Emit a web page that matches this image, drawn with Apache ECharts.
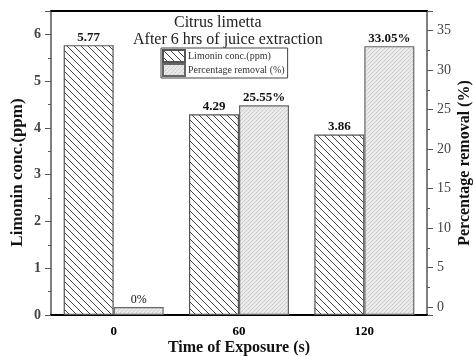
<!DOCTYPE html>
<html>
<head>
<meta charset="utf-8">
<script src="https://cdn.jsdelivr.net/npm/echarts@6/dist/echarts.min.js"></script>
<style>html,body{margin:0;padding:0;background:#fff}#c{width:473px;height:356px}</style>
</head>
<body>
<div id="c"></div>
<script>
const categories = ['0', '60', '120'];
const limoninConc = [5.77, 4.29, 3.86];
const percentRemoval = [0, 25.55, 33.05];
const seriesNames = ['Limonin conc.(ppm)', 'Percentage removal (%)'];
const titleLines = ['Citrus limetta', 'After 6 hrs of juice extraction'];

function hatchPattern() {
  const n = 7, c = document.createElement('canvas');
  c.width = n; c.height = n;
  const g = c.getContext('2d');
  g.fillStyle = '#fff'; g.fillRect(0, 0, n, n);
  g.strokeStyle = '#444'; g.lineWidth = 1;
  g.beginPath();
  g.moveTo(-1, -1); g.lineTo(n + 1, n + 1);
  g.moveTo(-1, n - 1); g.lineTo(1, n + 1);
  g.moveTo(n - 1, -1); g.lineTo(n + 1, 1);
  g.stroke();
  return c;
}
function dotPattern() {
  const c = document.createElement('canvas');
  c.width = 4; c.height = 4;
  const g = c.getContext('2d');
  g.fillStyle = '#e9e9e9'; g.fillRect(0, 0, 4, 4);
  g.fillStyle = '#c8c8c8'; g.fillRect(0, 0, 1, 1); g.fillRect(2, 2, 1, 1);
  g.fillStyle = '#d6d6d6'; g.fillRect(1, 3, 1, 1); g.fillRect(3, 1, 1, 1);
  return c;
}

const serif = '"Liberation Serif", "DejaVu Serif", serif';
const chart = echarts.init(document.getElementById('c'), null, {renderer: 'canvas'});
chart.setOption({
  animation: false,
  textStyle: {fontFamily: serif},
  grid: {left: 51, right: 46, top: 11, bottom: 41, containLabel: false, outerBoundsMode: 'none'},
  graphic: [
    {type: 'text', left: 174, top: 15, style: {text: titleLines[0], font: '16px ' + serif, fill: '#222'}},
    {type: 'text', left: 133, top: 32, style: {text: titleLines[1], font: '16px ' + serif, fill: '#222'}}
  ],
  legend: {
    orient: 'vertical', left: 161, top: 48,
    itemWidth: 22, itemHeight: 12, itemGap: 0,
    padding: [1, 3, 1, 1],
    borderColor: '#444', borderWidth: 1,
    textStyle: {fontFamily: serif, fontSize: 10, color: '#333', padding: [0, 0, 0, -2]},
    data: [{name: seriesNames[0], icon: 'rect'}, {name: seriesNames[1], icon: 'rect'}]
  },
  xAxis: [
    {type: 'category', data: categories, position: 'bottom',
      axisLine: {lineStyle: {color: '#000', width: 2}},
      axisTick: {alignWithLabel: true, length: 3, lineStyle: {color: '#000'}},
      axisLabel: {fontFamily: serif, fontSize: 13, fontWeight: 'bold', color: '#000', margin: 10},
      name: 'Time of Exposure (s)', nameLocation: 'middle', nameGap: 25, nameMoveOverlap: false,
      nameTextStyle: {fontFamily: serif, fontSize: 16, fontWeight: 'bold', color: '#111'}},
    {type: 'category', data: categories, position: 'bottom',
      axisLine: {show: false},
      axisTick: {alignWithLabel: false, length: 3, lineStyle: {color: '#333'}},
      axisLabel: {show: false}},
    {type: 'category', data: categories, position: 'top',
      axisLine: {lineStyle: {color: '#000', width: 2}},
      axisTick: {show: false}, axisLabel: {show: false}}
  ],
  yAxis: [
    {type: 'value', min: 0, max: 6.5, interval: 1, position: 'left',
      axisLine: {show: true, lineStyle: {color: '#555', width: 1.5}},
      axisTick: {show: true, length: 6, lineStyle: {color: '#555'}},
      minorTick: {show: true, splitNumber: 2, length: 3, lineStyle: {color: '#555'}},
      splitLine: {show: false},
      axisLabel: {fontFamily: serif, fontSize: 14, fontWeight: 'bold', color: '#444', margin: 10, showMaxLabel: false},
      name: seriesNames[0],
      nameLocation: 'middle', nameRotate: 90, nameGap: 25, nameMoveOverlap: false,
      nameTextStyle: {fontFamily: serif, fontSize: 17, fontWeight: 'bold', color: '#111', padding: [0, 19, 0, 0]}},
    {type: 'value', min: -1, max: 37.5, minInterval: 5, maxInterval: 5, splitNumber: 8, startValue: -1, position: 'right',
      axisLine: {show: true, lineStyle: {color: '#555', width: 1.5}},
      axisTick: {show: true, length: 6, lineStyle: {color: '#555'}},
      minorTick: {show: true, splitNumber: 2, length: 3, lineStyle: {color: '#555'}},
      splitLine: {show: false},
      axisLabel: {fontFamily: serif, fontSize: 14, color: '#444', margin: 10, showMinLabel: false, showMaxLabel: false},
      name: seriesNames[1],
      nameLocation: 'middle', nameRotate: 90, nameGap: 30, nameMoveOverlap: false,
      nameTextStyle: {fontFamily: serif, fontSize: 16, fontWeight: 'bold', color: '#111'}}
  ],
  series: [
    {name: seriesNames[0], type: 'bar', xAxisIndex: 0, yAxisIndex: 0, barWidth: 50, barGap: '0%',
      data: limoninConc,
      itemStyle: {color: {image: hatchPattern(), repeat: 'repeat'}, borderColor: '#555', borderWidth: 1.2},
      label: {show: true, position: 'top', distance: 1, fontFamily: serif, fontSize: 13, fontWeight: 'bold', color: '#111',
        formatter: p => p.value.toFixed(2)}},
    {name: seriesNames[1], type: 'bar', xAxisIndex: 0, yAxisIndex: 1, barWidth: 50, barGap: '0%',
      data: percentRemoval.map(v => v === 0 ? {value: v, label: {fontWeight: 'normal', fontSize: 12}} : v),
      itemStyle: {color: {image: dotPattern(), repeat: 'repeat'}, borderColor: '#666', borderWidth: 1.2},
      label: {show: true, position: 'top', distance: 1, fontFamily: serif, fontSize: 13, fontWeight: 'bold', color: '#111',
        formatter: p => (p.value === 0 ? '0' : p.value.toFixed(2)) + '%'}}
  ]
});
</script>
</body>
</html>
